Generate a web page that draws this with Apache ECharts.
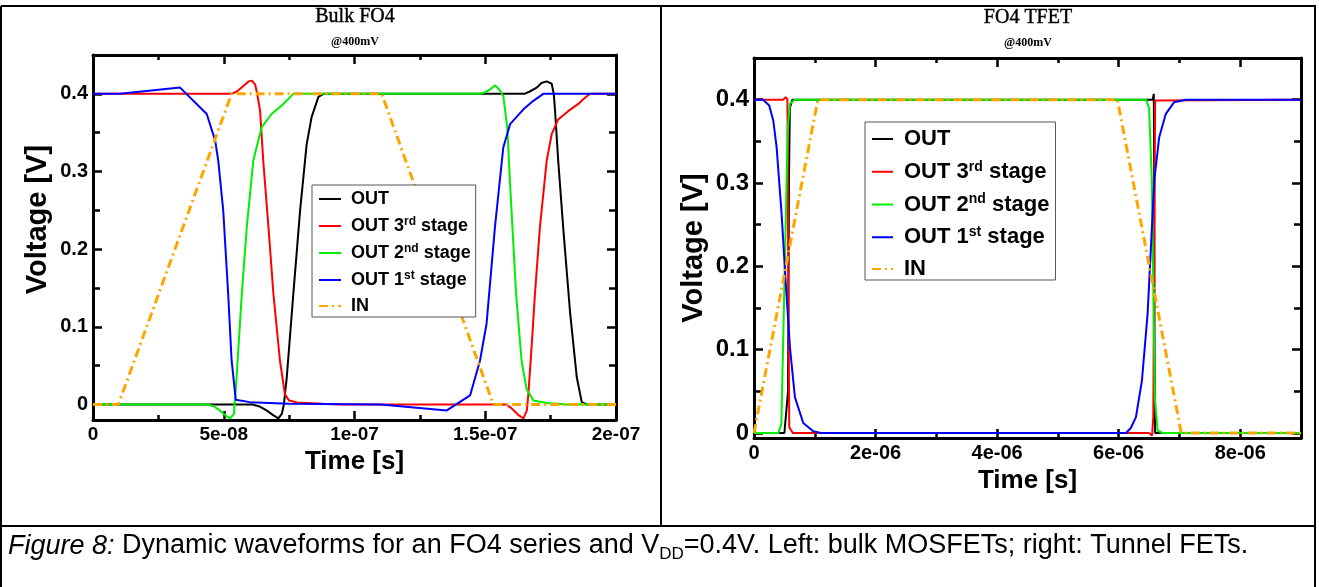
<!DOCTYPE html>
<html>
<head>
<meta charset="utf-8">
<script src="https://cdn.jsdelivr.net/npm/echarts@6/dist/echarts.min.js"></script>
<style>
html,body{margin:0;padding:0;background:#fff;}
#chart{width:1319px;height:587px;}
</style>
</head>
<body>
<div id="chart"></div>
<script>
// ---------- DATA ----------
// Bulk FO4 (time in ns, voltage in V)
const bulkOut = [[0,0],[61,0],[64,-0.003],[66.5,-0.008],[69,-0.014],[70.9,-0.018],[72.2,-0.012],[73,0],[74.1,0.035],[76.6,0.142],[79.2,0.25],[81.7,0.335],[83.6,0.37],[86.2,0.396],[88.1,0.4],[165,0.4],[167,0.403],[169.7,0.408],[171.5,0.414],[173.5,0.416],[175.4,0.413],[176.2,0.4],[176.7,0.378],[177.9,0.314],[179.8,0.228],[182.4,0.12],[185,0.035],[186.9,0.003],[188.8,0],[200,0]];
const bulkOut3 = [[0,0.4],[53,0.4],[55,0.403],[57.5,0.41],[59.5,0.416],[60.7,0.417],[62,0.412],[62.8,0.4],[63.9,0.378],[65.1,0.314],[67.1,0.228],[69,0.142],[71.5,0.056],[73.4,0.013],[75,0.005],[78,0.0025],[88,0.001],[95,0],[158,0],[160.1,-0.005],[162.5,-0.013],[164.6,-0.018],[165.9,-0.008],[166.5,0.014],[167.8,0.078],[169,0.142],[170.9,0.228],[173.5,0.314],[175.4,0.348],[177.9,0.367],[181.8,0.378],[185.6,0.387],[187.5,0.393],[190,0.4],[200,0.4]];
const bulkOut2 = [[0,0],[43.5,0],[46,-0.002],[48.6,-0.008],[51,-0.015],[52.4,-0.018],[53.9,-0.012],[54.9,0.035],[56.9,0.142],[58.8,0.228],[61.3,0.314],[64.5,0.357],[68.3,0.374],[72.8,0.387],[76.6,0.4],[148,0.4],[150,0.402],[152,0.406],[153.7,0.411],[155.5,0.405],[156.9,0.397],[158.4,0.357],[159.7,0.271],[161.8,0.142],[163.9,0.056],[165.8,0.02],[168.4,0.005],[173.5,0.002],[181.2,0],[200,0]];
const bulkOut1 = [[0,0.4],[10.3,0.4],[33.3,0.408],[43.5,0.374],[46.7,0.34],[47.9,0.314],[49.8,0.25],[51.7,0.142],[53,0.057],[54.6,0.006],[60,0.003],[75,0.001],[110,0],[135.3,-0.0077],[144.2,0.0116],[148,0.0566],[150.5,0.104],[153.7,0.228],[156.9,0.331],[159.5,0.361],[164.6,0.38],[168.4,0.391],[172.2,0.4],[200,0.4]];
const bulkIn = [[0,0],[9.7,0],[53,0.4],[110.4,0.4],[153.1,0],[200,0]];

// FO4 TFET (time in us, voltage in V)
const tfetOut = [[0,0],[0.5,0],[0.56,0.05],[0.575,0.3],[0.59,0.39],[0.63,0.4],[6.56,0.4],[6.578,0.407],[6.585,0.3],[6.59,0.1],[6.6,0],[6.62,-0.002],[6.65,0],[9,0]];
const tfetOut3 = [[0,0.4],[0.48,0.4],[0.52,0.403],[0.55,0.4],[0.563,0.2],[0.58,0.007],[0.64,0],[6.5,0],[6.55,-0.003],[6.57,0.02],[6.585,0.223],[6.6,0.399],[6.62,0.4],[9,0.4]];
const tfetOut2 = [[0,0],[0.4,0],[0.45,0.011],[0.49,0.143],[0.525,0.263],[0.553,0.363],[0.59,0.395],[0.67,0.4],[6.45,0.4],[6.5,0.39],[6.546,0.303],[6.568,0.183],[6.595,0.043],[6.64,0.003],[6.72,0],[9,0]];
const tfetOut1 = [[0,0.4],[0.15,0.4],[0.25,0.393],[0.317,0.375],[0.372,0.343],[0.454,0.263],[0.52,0.183],[0.591,0.103],[0.673,0.043],[0.81,0.012],[0.974,0.002],[1.1,0],[6.12,0],[6.2,0.006],[6.284,0.019],[6.383,0.063],[6.476,0.143],[6.531,0.223],[6.585,0.303],[6.667,0.355],[6.776,0.383],[6.913,0.397],[7.104,0.4],[9,0.4]];
const tfetIn = [[0,0],[1.05,0.4],[5.98,0.4],[7.03,0],[9,0]];

const seriesNames = ['OUT','OUT 3rd stage','OUT 2nd stage','OUT 1st stage','IN'];
const bulkXTickVals = [0,50,100,150,200];
const bulkXTickLabels = ['0','5e-08','1e-07','1.5e-07','2e-07'];
const tfetXTickVals = [0,2,4,6,8];
const tfetXTickLabels = ['0','2e-06','4e-06','6e-06','8e-06'];
const yTickVals = [0,0.1,0.2,0.3,0.4];
const yTickLabels = ['0','0.1','0.2','0.3','0.4'];

// ---------- STYLE ----------
const colors = ['#000000','#ff0000','#00ee00','#0000ff','#ffa500'];
const FONT = 'Liberation Sans, Arial, sans-serif';
const SERIF = 'Liberation Serif, Times New Roman, serif';

function lookup(vals, labels) {
  return function (v) {
    for (let i = 0; i < vals.length; i++) if (Math.abs(v - vals[i]) < 1e-9) return labels[i];
    return '';
  };
}

function xAxes(gridIndex, max, major, minor, labels, labelSize, nameGap) {
  const base = {type:'value', gridIndex, min:0, max, splitLine:{show:false}};
  const tickMajor = {show:true, inside:true, length:9, lineStyle:{color:'#000', width:2.5}};
  const tickMinor = {show:true, inside:true, length:5, lineStyle:{color:'#000', width:2.5}};
  return [
    Object.assign({}, base, {position:'bottom', interval:major,
      axisLine:{show:true, onZero:false, lineStyle:{color:'#000', width:3}},
      axisTick:tickMajor,
      axisLabel:{show:true, interval:0, formatter:labels, color:'#000', fontFamily:FONT, fontWeight:'bold', fontSize:labelSize, margin:5},
      name:'Time [s]', nameLocation:'middle', nameGap,
      nameTextStyle:{color:'#000', fontFamily:FONT, fontWeight:'bold', fontSize:26}}),
    Object.assign({}, base, {position:'bottom', interval:minor, axisLine:{show:false, onZero:false}, axisTick:tickMinor, axisLabel:{show:false}}),
    Object.assign({}, base, {position:'top', interval:major,
      axisLine:{show:true, onZero:false, lineStyle:{color:'#000', width:3}}, axisTick:tickMajor, axisLabel:{show:false}}),
    Object.assign({}, base, {position:'top', interval:minor, axisLine:{show:false, onZero:false}, axisTick:tickMinor, axisLabel:{show:false}})
  ];
}

function yAxes(gridIndex, min, max, labelSize, nameGap, nameShift) {
  const base = {type:'value', gridIndex, min, max, splitLine:{show:false}};
  const tickMajor = {show:true, inside:true, length:9, lineStyle:{color:'#000', width:2.5}};
  const tickMinor = {show:true, inside:true, length:7, lineStyle:{color:'#000', width:2.5}};
  const fmt = lookup(yTickVals, yTickLabels);
  return [
    Object.assign({}, base, {position:'left', minInterval:0.1, maxInterval:0.1,
      axisLine:{show:true, onZero:false, lineStyle:{color:'#000', width:3}},
      axisTick:tickMajor,
      axisLabel:{show:true, interval:0, formatter:fmt, color:'#000', fontFamily:FONT, fontWeight:'bold', fontSize:labelSize, margin:5},
      name:'Voltage [V]', nameLocation:'middle', nameGap,
      nameTextStyle:{color:'#000', fontFamily:FONT, fontWeight:'bold', fontSize:29, padding:[0,0,0,nameShift]}}),
    Object.assign({}, base, {position:'left', minInterval:0.05, maxInterval:0.05, axisLine:{show:false, onZero:false}, axisTick:tickMinor, axisLabel:{show:false}}),
    Object.assign({}, base, {position:'right', minInterval:0.1, maxInterval:0.1,
      axisLine:{show:true, onZero:false, lineStyle:{color:'#000', width:3}}, axisTick:tickMajor, axisLabel:{show:false}}),
    Object.assign({}, base, {position:'right', minInterval:0.05, maxInterval:0.05, axisLine:{show:false, onZero:false}, axisTick:tickMinor, axisLabel:{show:false}})
  ];
}

function makeSeries(datasets, xi, yi) {
  return datasets.map((d, i) => ({
    type:'line', name:seriesNames[i], data:d, xAxisIndex:xi, yAxisIndex:yi,
    symbol:'none', showSymbol:false, smooth:false, clip:true, animation:false,
    lineStyle: i === 4 ? {color:colors[i], width:3, type:[9,4,2,4]} : {color:colors[i], width:2},
    itemStyle:{color:colors[i]}
  }));
}

function legendFmt(name) {
  const m = name.match(/^(.*\d)(rd|nd|st)(.*)$/);
  if (m) return '{g| }{m|' + m[1] + '}{s|' + m[2] + '}{m|' + m[3] + '}';
  return '{g| }{m|' + name + '}';
}

function makeLegend(left, top, size, supSize, lh, gap, itemW, pad, indent) {
  return {
    orient:'vertical', left, top, data:seriesNames, selectedMode:false,
    backgroundColor:'#fff', borderColor:'#555', borderWidth:1,
    padding:pad, itemGap:gap, itemWidth:itemW, itemHeight:12,
    itemStyle:{opacity:0},
    formatter:legendFmt,
    textStyle:{color:'#000', fontFamily:FONT, fontWeight:'bold', fontSize:size,
      rich:{
        g:{width:indent, fontSize:size, lineHeight:lh},
        m:{fontFamily:FONT, fontWeight:'bold', fontSize:size, lineHeight:lh, color:'#000'},
        s:{fontFamily:FONT, fontWeight:'bold', fontSize:supSize, lineHeight:Math.round(lh*0.5), verticalAlign:'top', color:'#000'}
      }}
  };
}

const chart = echarts.init(document.getElementById('chart'), null, {renderer:'canvas'});

const option = {
  backgroundColor:'#fff',
  animation:false,
  grid:[
    {left:93, top:55, width:523, height:365},
    {left:754, top:58, width:547, height:380}
  ],
  xAxis: [].concat(
    xAxes(0, 200, 50, 25, lookup(bulkXTickVals, bulkXTickLabels), 19, 18),
    xAxes(1, 9, 2, 1, lookup(tfetXTickVals, tfetXTickLabels), 20, 24)
  ),
  yAxis: [].concat(
    yAxes(0, -0.02, 0.45, 20, 41, 36),
    yAxes(1, -0.006, 0.45, 24, 46, 0)
  ),
  legend:[
    makeLegend(312, 185, 18, 12, 20, 8, 22, [5,5,2,6], 5),
    makeLegend(865, 122, 22, 14, 24, 9.75, 21, [6,6,0,6], 6)
  ],
  series: [].concat(
    makeSeries([bulkOut, bulkOut3, bulkOut2, bulkOut1, bulkIn], 0, 0),
    makeSeries([tfetOut, tfetOut3, tfetOut2, tfetOut1, tfetIn], 4, 4)
  ),
  graphic:[
    {type:'line', shape:{x1:1, y1:6, x2:1316, y2:6}, style:{stroke:'#000', lineWidth:2}, silent:true},
    {type:'line', shape:{x1:1, y1:6, x2:1, y2:587}, style:{stroke:'#000', lineWidth:2}, silent:true},
    {type:'line', shape:{x1:1315, y1:6, x2:1315, y2:587}, style:{stroke:'#000', lineWidth:2}, silent:true},
    {type:'line', shape:{x1:661, y1:6, x2:661, y2:526}, style:{stroke:'#000', lineWidth:2}, silent:true},
    {type:'line', shape:{x1:1, y1:526, x2:1316, y2:526}, style:{stroke:'#000', lineWidth:2}, silent:true},
    {type:'text', x:355, y:17, style:{text:'Bulk FO4', font:'20px ' + SERIF, fill:'#000', stroke:'#000', lineWidth:0.4, align:'center', verticalAlign:'middle'}},
    {type:'text', x:355, y:42, style:{text:'@400mV', font:'bold 12px ' + SERIF, fill:'#000', align:'center', verticalAlign:'middle'}},
    {type:'text', x:1028, y:18, style:{text:'FO4 TFET', font:'20px ' + SERIF, fill:'#000', stroke:'#000', lineWidth:0.4, align:'center', verticalAlign:'middle'}},
    {type:'text', x:1028, y:43, style:{text:'@400mV', font:'bold 12px ' + SERIF, fill:'#000', align:'center', verticalAlign:'middle'}},
    {type:'text', x:8, y:529, style:{
      text:'{i|Figure 8:}{n| Dynamic waveforms for an FO4 series and V}{b|DD}{n|=0.4V. Left: bulk MOSFETs; right: Tunnel FETs.}',
      fill:'#000', align:'left', verticalAlign:'top',
      rich:{
        i:{fontFamily:FONT, fontStyle:'italic', fontSize:27, lineHeight:34, fill:'#000'},
        n:{fontFamily:FONT, fontSize:27, lineHeight:34, fill:'#000'},
        b:{fontFamily:FONT, fontSize:17, lineHeight:19, verticalAlign:'bottom', fill:'#000'}
      }}}
  ]
};
chart.setOption(option);
</script>
</body>
</html>
